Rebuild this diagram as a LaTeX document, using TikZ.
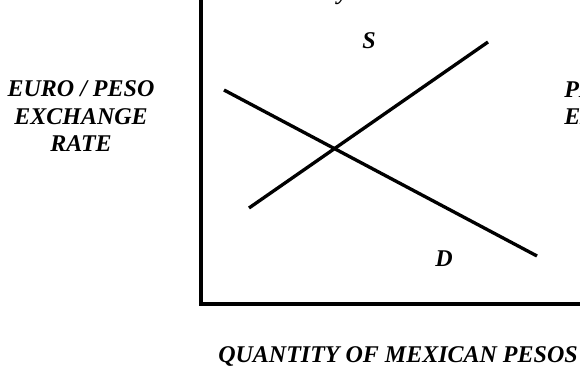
\documentclass[tikz,border=0pt]{standalone}
\usepackage{fontspec}
\setmainfont{Liberation Serif}
\usepackage{xcolor}
\usetikzlibrary{positioning}

\tikzset{
  lbl/.style={font=\fontsize{18}{20.25}\selectfont\bfseries\itshape, inner sep=0pt},
  curve/.style={line width=2.5pt},
  axis/.style={line width=2.6pt}
}

\begin{document}
\begin{tikzpicture}[x=0.75pt, y=-0.75pt]
        \useasboundingbox (0,0) rectangle (580,367);
        \clip (0,0) rectangle (580,367);

        \coordinate (top)    at (201,-10);
        \coordinate (origin) at (201,304);
        \coordinate (right)  at (590,304);
        \draw[axis] (top) -- (origin) -- (right);

        \coordinate (s0) at (249,208);
        \coordinate (s1) at (488,42);
        \coordinate (d0) at (224,90);
        \coordinate (d1) at (537,256);
        \draw[curve] (s0) -- (s1);
        \draw[curve] (d0) -- (d1);

        \node[lbl] (S) at (369,41) {S};
        \node[lbl] (D) at (444,259) {D};

        % anchor base = last line
        \node[lbl, align=center, anchor=base] (ylab) at (81,151)
            {EURO / PESO\\EXCHANGE\\RATE};
        \node[lbl, align=left, anchor=base west] (ylab2) at (564,124)
            {PESO / EURO\\EXCHANGE};
        \node[lbl, anchor=base] (xlab) at (398,362) {QUANTITY OF MEXICAN PESOS};
        \node[lbl, anchor=base] (title) at (343,0) {y};
\end{tikzpicture}
\end{document}
